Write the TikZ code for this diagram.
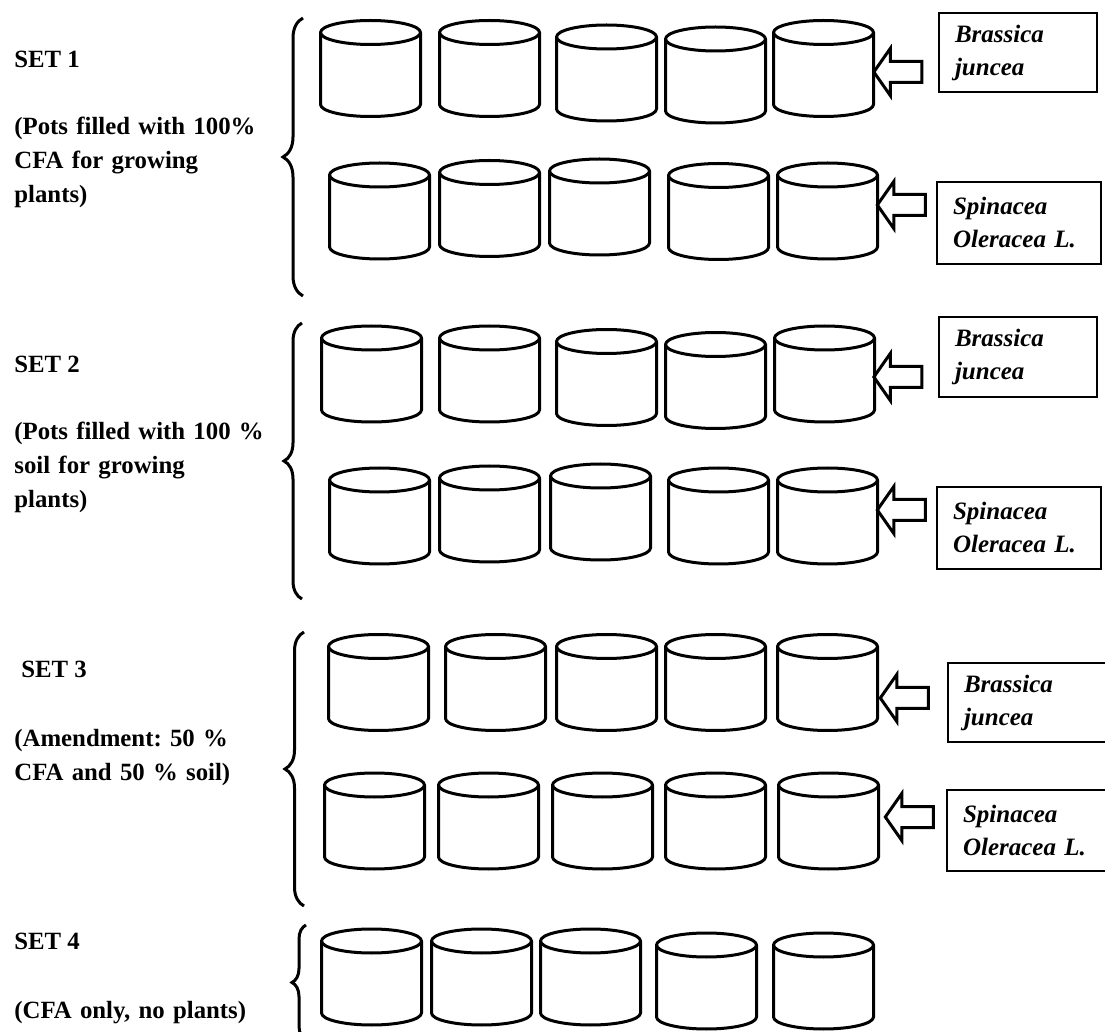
\documentclass[tikz,border=0pt]{standalone}
\usepackage{fontspec}
\setmainfont{Liberation Serif}
\usepackage{tikz}
\usetikzlibrary{shapes.arrows}
\usetikzlibrary{decorations.pathreplacing}
\frenchspacing
\tikzstyle{potline} = [draw=black, line width=1.5pt, line join=round]
\tikzset{pot/.pic={
    \draw[potline] (-50,-36) -- (-50,36)
        arc[start angle=180, end angle=0, x radius=50, y radius=12] -- (50,-36);
    \draw[potline] (0,-36) ellipse [x radius=50, y radius=12];
}}
\tikzstyle{arw} = [single arrow, shape border rotate=180, draw=black,
    line width=1.5pt, inner sep=0, inner ysep=4.5pt, outer sep=0,
    minimum height=24pt, single arrow head extend=6.5pt,
    single arrow tip angle=110]
\tikzstyle{plant} = [draw=black, line width=0.75pt, inner sep=0,
    inner xsep=8pt, align=left, font=\bfseries\itshape\fontsize{12.5}{16.5}\selectfont]
\tikzstyle{setname} = [anchor=base west, inner sep=0, font=\bfseries\fontsize{12.4}{16.8}\selectfont]
\tikzstyle{setinfo} = [anchor=base west, inner sep=0, text width=145pt, align=left,
    font=\bfseries\fontsize{12.4}{16.8}\selectfont]
\tikzstyle{brc} = [decorate, line width=1.5pt]

\begin{document}
\begin{tikzpicture}[x=0.5pt, y=-0.5pt]
\useasboundingbox (0,0) rectangle (1105,1032);
\clip (0,0) rectangle (1105,1032);

%%% set 1
\node[setname] (n1) at (14,68) {SET 1};
\node[setinfo] (i1) at (14,135) {(Pots filled with 100\%\\ CFA for growing\\ plants)};
\draw[brc, decoration={brace, amplitude=10pt}] (303,296) -- (303,18);

\pic (s1a1) at (370.5,68.5) {pot};
\pic (s1a2) at (489.5,68.5) {pot};
\pic (s1a3) at (606.5,73) {pot};
\pic (s1a4) at (715.5,75) {pot};
\pic (s1a5) at (823.5,68.5) {pot};

\pic (s1b1) at (379.5,211) {pot};
\pic (s1b2) at (489.5,208.5) {pot};
\pic (s1b3) at (599.5,207) {pot};
\pic (s1b4) at (718.5,211.5) {pot};
\pic (s1b5) at (827.5,211) {pot};

\node[arw] (a1a) at (901.5,72) {};
\node[arw] (a1b) at (905,205) {};
\node[plant, text width=63pt, minimum height=39.5pt] (p1a) at (1018,52.5) {Brassica\\ juncea};
\node[plant, text width=66pt, minimum height=41pt] (p1b) at (1019,223) {Spinacea\\ Oleracea L.};

%%% set 2
\node[setname] (n2) at (14,373) {SET 2};
\node[setinfo] (i2) at (14,440) {(Pots filled with 100 \%\\ soil for growing\\ plants)};
\draw[brc, decoration={brace, amplitude=9pt}] (302,599) -- (302,323);

\pic (s2a1) at (371.5,374) {pot};
\pic (s2a2) at (489.5,374) {pot};
\pic (s2a3) at (606.5,377.5) {pot};
\pic (s2a4) at (715.5,380.5) {pot};
\pic (s2a5) at (824.5,374) {pot};

\pic (s2b1) at (379.5,516) {pot};
\pic (s2b2) at (489.5,514) {pot};
\pic (s2b3) at (600.5,512) {pot};
\pic (s2b4) at (718.5,516) {pot};
\pic (s2b5) at (827.5,516) {pot};

\node[arw] (a2a) at (901.5,377) {};
\node[arw] (a2b) at (905,510) {};
\node[plant, text width=63pt, minimum height=40pt] (p2a) at (1018,357) {Brassica\\ juncea};
\node[plant, text width=66pt, minimum height=41pt] (p2b) at (1019,528) {Spinacea\\ Oleracea L.};

%%% set 3
\node[setname] (n3) at (21,678) {SET 3};
\node[setinfo] (i3) at (14,747) {(Amendment: 50 \%\\ CFA and 50 \% soil)};
\draw[brc, decoration={brace, amplitude=9.5pt}] (304,906) -- (304,632);

\pic (s3a1) at (378.5,682.5) {pot};
\pic (s3a2) at (495.5,682.5) {pot};
\pic (s3a3) at (606.5,682.5) {pot};
\pic (s3a4) at (715.5,682.5) {pot};
\pic (s3a5) at (827.5,682.5) {pot};

\pic (s3b1) at (374.5,821) {pot};
\pic (s3b2) at (488.5,821) {pot};
\pic (s3b3) at (602.5,821) {pot};
\pic (s3b4) at (715.5,821) {pot};
\pic (s3b5) at (828.5,821) {pot};

\node[arw] (a3a) at (908,698) {};
\node[arw] (a3b) at (913,817) {};
\node[plant, text width=64pt, minimum height=39.5pt] (p3a) at (1028,702.5) {Brassica\\ juncea};
\node[plant, text width=67pt, minimum height=40.5pt] (p3b) at (1030,830.5) {Spinacea\\ Oleracea L.};

%%% set 4
\node[setname] (n4) at (14,949) {SET 4};
\node[setinfo] (i4) at (14,1018) {(CFA only, no plants)};
\draw[brc, decoration={brace, amplitude=7pt}] (306,1040) -- (306,925);

\pic (s4a1) at (371.5,977) {pot};
\pic (s4a2) at (481.5,977) {pot};
\pic (s4a3) at (590.5,977) {pot};
\pic (s4a4) at (706.5,981) {pot};
\pic (s4a5) at (823.5,981) {pot};

\end{tikzpicture}
\end{document}
